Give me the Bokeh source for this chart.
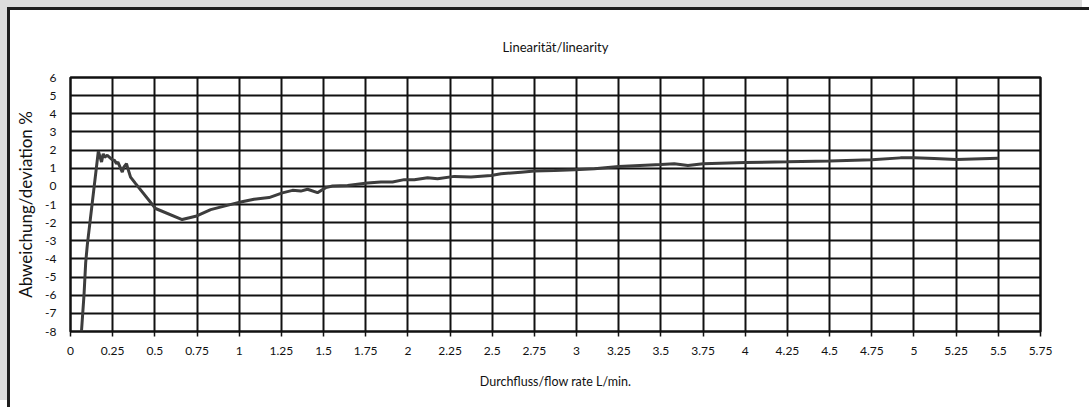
from bokeh.plotting import figure
from bokeh.models import FixedTicker
from bokeh.embed import file_html
from bokeh.resources import INLINE

# ---- data ----
flow = [0.065, 0.08, 0.09, 0.10, 0.165, 0.184, 0.194, 0.202, 0.218, 0.247,
        0.261, 0.273, 0.281, 0.307, 0.316, 0.332, 0.340, 0.356, 0.386, 0.504,
        0.662, 0.742, 0.831, 0.969, 1.009, 1.088, 1.177, 1.256, 1.316, 1.365,
        1.405, 1.464, 1.513, 1.553, 1.642, 1.760, 1.840, 1.909, 1.978, 2.038,
        2.117, 2.176, 2.275, 2.374, 2.493, 2.552, 2.671, 2.75, 2.869, 2.988,
        3.106, 3.25, 3.5, 3.579, 3.66, 3.75, 4.0, 4.25, 4.5, 4.75,
        4.92, 5.0, 5.12, 5.25, 5.5]
deviation = [-8.0, -6.0, -4.2, -3.2, 1.94, 1.34, 1.80, 1.61, 1.71, 1.47,
             1.43, 1.25, 1.34, 0.79, 1.06, 1.25, 0.98, 0.51, 0.15, -1.22,
             -1.83, -1.65, -1.28, -0.95, -0.86, -0.71, -0.62, -0.36, -0.22, -0.26,
             -0.16, -0.35, -0.07, 0.02, 0.05, 0.18, 0.24, 0.24, 0.37, 0.37,
             0.48, 0.42, 0.55, 0.51, 0.60, 0.69, 0.78, 0.84, 0.87, 0.91,
             0.97, 1.09, 1.20, 1.24, 1.15, 1.24, 1.31, 1.35, 1.40, 1.46,
             1.57, 1.57, 1.53, 1.48, 1.55]

x_ticks = [0, 0.25, 0.5, 0.75, 1, 1.25, 1.5, 1.75, 2, 2.25, 2.5, 2.75, 3,
           3.25, 3.5, 3.75, 4, 4.25, 4.5, 4.75, 5, 5.25, 5.5, 5.75]
x_tick_labels = ["0", "0.25", "0.5", "0.75", "1", "1.25", "1.5", "1.75", "2",
                 "2.25", "2.5", "2.75", "3", "3.25", "3.5", "3.75", "4", "4.25",
                 "4.5", "4.75", "5", "5.25", "5.5", "5.75"]
y_ticks = [-8, -7, -6, -5, -4, -3, -2, -1, 0, 1, 2, 3, 4, 5, 6]
y_tick_labels = [str(v) for v in y_ticks]

title_text = "Linearität/linearity"
x_label = "Durchfluss/flow rate L/min."
y_label = "Abweichung/deviation %"

FONT = "Lato"

p = figure(width=1082, height=400, output_backend="svg", toolbar_location=None,
           x_range=(0, 5.75), y_range=(-8, 6),
           min_border_left=60, min_border_right=52,
           min_border_top=67, min_border_bottom=79,
           title=title_text)
p.styles = {"border-left": "3px solid #1e1e1e", "border-top": "3px solid #1e1e1e",
            "margin-left": "7px", "margin-top": "7px",
            "box-shadow": "-7px -7px 0 0 #dcdcdc"}

p.background_fill_color = "white"
p.border_fill_color = "white"
p.outline_line_color = "#111111"
p.outline_line_width = 2.5

p.title.align = "center"
p.title.text_font = FONT
p.title.text_font_size = "13px"
p.title.text_font_style = "normal"
p.title.text_color = "#111111"
p.title.standoff = 45

p.line(flow, deviation, line_color="#3d3d3d", line_width=3)

# x axis
xa = p.xaxis[0]
xa.ticker = FixedTicker(ticks=x_ticks)
xa.major_label_overrides = {t: l for t, l in zip(x_ticks, x_tick_labels)}
xa.minor_tick_line_color = None
xa.axis_line_color = None
xa.major_tick_out = 5
xa.major_tick_in = 0
xa.major_tick_line_color = "#111111"
xa.major_tick_line_width = 1.5
xa.major_label_standoff = 10
xa.major_label_text_font = FONT
xa.major_label_text_font_size = "12px"
xa.major_label_text_color = "#111111"
xa.axis_label = x_label
xa.axis_label_text_font = FONT
xa.axis_label_text_font_size = "12.5px"
xa.axis_label_text_font_style = "normal"
xa.axis_label_text_color = "#111111"
xa.axis_label_standoff = 16

# y axis
ya = p.yaxis[0]
ya.ticker = FixedTicker(ticks=y_ticks)
ya.major_label_overrides = {t: l for t, l in zip(y_ticks, y_tick_labels)}
ya.minor_tick_line_color = None
ya.axis_line_color = None
ya.major_tick_out = 0
ya.major_tick_in = 0
ya.major_label_standoff = 14
ya.major_label_text_font = FONT
ya.major_label_text_font_size = "12px"
ya.major_label_text_color = "#111111"
ya.axis_label = y_label
ya.axis_label_text_font = FONT
ya.axis_label_text_font_size = "17px"
ya.axis_label_text_font_style = "normal"
ya.axis_label_text_color = "#111111"
ya.axis_label_standoff = 6

p.xgrid.ticker = FixedTicker(ticks=x_ticks)
p.ygrid.ticker = FixedTicker(ticks=y_ticks)
for g in (p.xgrid[0], p.ygrid[0]):
    g.grid_line_color = "#111111"
    g.grid_line_width = 2
    g.grid_line_alpha = 1.0

open("out.html", "w").write(file_html(p, INLINE))
